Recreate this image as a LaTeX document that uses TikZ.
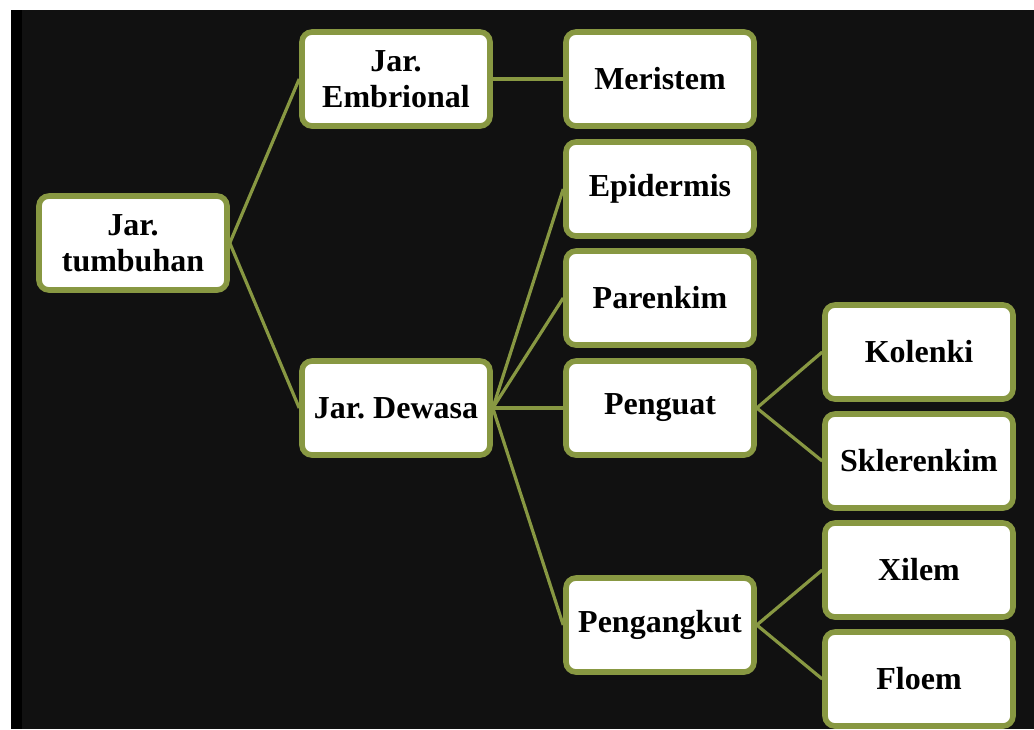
\documentclass[tikz,border=0pt]{standalone}
\usepackage{fontspec}
\setmainfont{Liberation Serif}
\frenchspacing
\definecolor{olivegreen}{RGB}{136,152,66}
\definecolor{bgdark}{RGB}{17,17,17}
\tikzset{
	tissue/.style={draw=olivegreen, line width=2.8pt, fill=white, rounded corners=5pt,
		minimum width=94pt, minimum height=47pt, align=center, inner sep=2pt,
		font=\fontsize{16}{18}\selectfont\bfseries},
	branch/.style={draw=olivegreen, line width=1.6pt}
}
\begin{document}
\begin{tikzpicture}[x=0.5pt, y=-0.5pt]
	    \useasboundingbox (0, 0) rectangle (1034, 729);
	    \fill[white] (0, 0) rectangle (1034, 729);
	    \fill[bgdark] (11, 10) rectangle (1034, 729);
	    \fill[black] (11, 10) rectangle (22, 729);
	    % level 0 and 1
	    \node[tissue] (tumbuhan) at (133, 243) {Jar.\\tumbuhan};
	    \node[tissue] (embrional) at (396, 79) {Jar.\\Embrional};
	    \node[tissue] (dewasa) at (396, 408) {Jar. Dewasa};
	    % level 2
	    \node[tissue] (meristem) at (660, 79) {Meristem};
	    \node[tissue] (epidermis) at (660, 189) {Epidermis};
	    \node[tissue] (parenkim) at (660, 298) {Parenkim};
	    \node[tissue] (penguat) at (660, 408) {Penguat};
	    \node[tissue] (pengangkut) at (660, 625) {Pengangkut};
	    % level 3
	    \node[tissue] (kolenki) at (919, 352) {Kolenki};
	    \node[tissue] (sklerenkim) at (919, 461) {Sklerenkim};
	    \node[tissue] (xilem) at (919, 570) {Xilem};
	    \node[tissue] (floem) at (919, 679) {Floem};
	    % connectors
	    \draw[branch] (tumbuhan.east) -- (embrional.west);
	    \draw[branch] (tumbuhan.east) -- (dewasa.west);
	    \draw[branch] (embrional.east) -- (meristem.west);
	    \foreach \child in {epidermis, parenkim, penguat, pengangkut}
	        \draw[branch] (dewasa.east) -- (\child.west);
	    \draw[branch] (penguat.east) -- (kolenki.west);
	    \draw[branch] (penguat.east) -- (sklerenkim.west);
	    \draw[branch] (pengangkut.east) -- (xilem.west);
	    \draw[branch] (pengangkut.east) -- (floem.west);
    \end{tikzpicture}
\end{document}
